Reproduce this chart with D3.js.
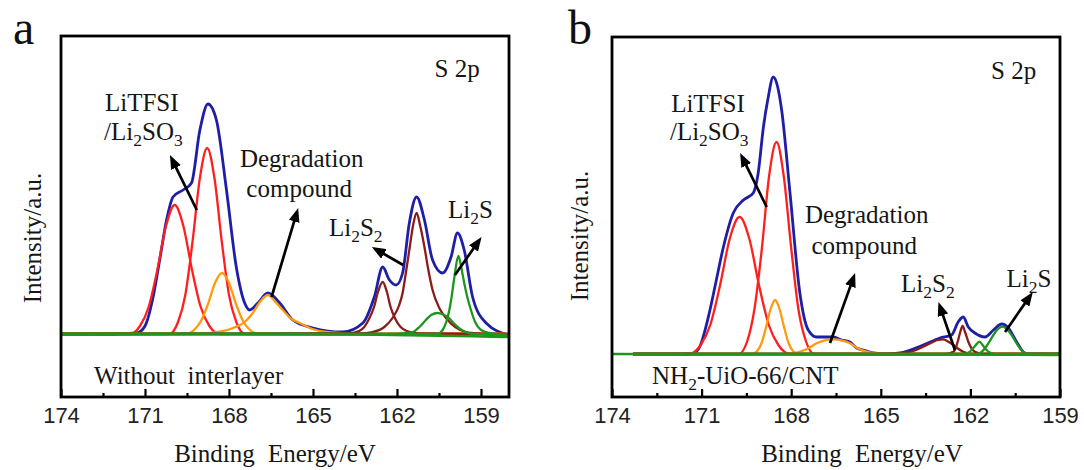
<!DOCTYPE html>
<html><head><meta charset="utf-8">
<script src="https://cdn.jsdelivr.net/npm/d3@7"></script>
<style>
html,body{margin:0;padding:0;background:#fff;}
svg{display:block;}
</style></head><body>
<svg id="chart" width="1084" height="470"></svg>
<script>
// ---------------- DATA (binding energy eV, intensity a.u.) ----------------
const xTicksMajor = [174, 171, 168, 165, 162, 159];
const xTicksMinor = [172.5, 169.5, 166.5, 163.5, 160.5];

// Panel a: Without interlayer
const envelopeA = [[174.0,0],[172.6,0],[171.7,0.5],[171.29,1],[171.0,8],[170.71,37],[170.47,75],[170.23,114],[170.0,137],[169.64,144],[169.34,151],[169.04,204],[168.75,230],[168.45,214],[168.09,144],[167.74,67],[167.44,31],[167.26,24],[166.97,31],[166.61,41],[166.19,31],[165.72,14],[165.0,6],[163.94,2],[163.22,11],[162.81,37],[162.51,67],[162.27,54],[162.03,49],[161.8,61],[161.56,111],[161.3,137],[161.02,114],[160.73,74],[160.37,61],[160.07,77],[159.84,101],[159.6,84],[159.3,37],[158.82,11],[158.0,-1]];
const litfsiA1 = [[174,0],[171.54,0],[171.18,8],[170.87,27],[170.56,64],[170.25,108],[169.94,129],[169.63,108],[169.32,64],[169.01,27],[168.70,8],[168.34,0],[158.0,0]];
const litfsiA2 = [[174,0],[170.13,0],[169.82,12],[169.56,39],[169.30,93],[169.04,156],[168.78,186],[168.52,156],[168.26,93],[168.00,39],[167.74,12],[167.43,0],[158.0,0]];
const degradA1 = [[174,0],[169.55,0],[169.25,4],[169.0,13],[168.75,30],[168.5,51],[168.25,61],[168.0,51],[167.75,30],[167.5,13],[167.25,4],[166.95,0],[158.0,0]];
const degradA2 = [[174,0],[169.04,0.5],[168.51,1.5],[167.86,6],[167.44,12],[167.15,21],[166.87,33],[166.61,39],[166.34,32],[166.08,24],[165.76,15],[165.48,11],[165.02,5],[164.53,2],[163.7,0.5],[162.63,0],[158.0,0]];
const li2s2A1 = [[174,0],[163.88,0],[163.35,3],[163.17,7],[163.0,15],[162.82,27],[162.68,42],[162.51,52],[162.36,42],[162.23,27],[162.06,15],[161.87,7],[161.65,3],[161.22,0.5],[158.0,0]];
const li2s2A2 = [[174,0],[163.34,0.5],[162.87,2],[162.45,7],[162.16,16],[161.92,29],[161.8,41],[161.69,60],[161.56,84],[161.43,108],[161.30,121],[161.17,108],[161.02,87],[160.88,64],[160.73,44],[160.49,26],[160.25,16],[159.92,7],[159.54,2],[158.88,0],[158.0,-2]];
const li2sA1 = [[174,0],[162.09,0],[161.73,1],[161.44,2],[161.2,7],[160.97,14],[160.78,19],[160.55,21],[160.35,19.5],[160.14,16],[159.96,10.5],[159.79,6],[159.57,2],[159.25,0],[158.0,-1]];
const li2sA2 = [[174,0],[160.56,0],[160.37,4],[160.24,12],[160.13,24],[160.04,39],[159.95,57],[159.81,78],[159.70,66],[159.60,51],[159.49,37],[159.36,24],[159.21,12],[159.0,4],[158.71,1],[158.0,-1]];
const baselineA = [[174,0],[166,0],[158.0,-3]];

// Panel b: NH2-UiO-66/CNT
const envelopeB = [[173.3,0],[171.72,0],[171.28,0.5],[171.05,8],[170.72,44],[170.52,72],[170.27,107],[169.94,141],[169.6,154],[169.27,161],[169.11,180],[168.93,227],[168.78,255],[168.6,277],[168.46,268],[168.32,244],[168.04,161],[167.71,61],[167.43,24],[167.15,17],[166.87,17],[166.59,17],[166.31,14],[166.03,12],[165.81,6],[165.47,3],[165.25,1],[164.8,0],[164.36,1],[163.58,9],[163.02,16],[162.63,19],[162.41,32],[162.24,37],[162.07,27],[161.85,21],[161.51,17],[161.23,24],[160.95,30],[160.73,26],[160.45,12],[160.17,1],[159.9,0],[159.0,0]];
const litfsiB1 = [[173.3,0],[171.43,0],[171.03,9],[170.71,29],[170.38,69],[170.06,115],[169.73,137],[169.40,115],[169.08,69],[168.75,29],[168.43,9],[168.03,0],[159,0]];
const litfsiB2 = [[173.3,0],[169.76,0],[169.47,13],[169.23,45],[168.98,106],[168.74,178],[168.49,212],[168.25,178],[168.0,106],[167.76,45],[167.51,13],[167.22,0],[159,0]];
const degradB1 = [[173.3,0],[169.32,0],[169.14,3],[168.99,11],[168.84,27],[168.69,45],[168.54,54],[168.39,45],[168.24,27],[168.09,11],[167.94,3],[167.76,0],[159,0]];
const degradB2 = [[173.3,0],[168.28,0],[167.87,1],[167.71,2.3],[167.44,5.5],[167.15,10.7],[166.87,13.7],[166.59,14.7],[166.31,13.7],[166.03,10.7],[165.76,5.5],[165.47,2.3],[165.29,1],[164.89,0],[159,0]];
const li2s2B1 = [[173.3,0],[164.86,0],[164.43,0.5],[164.13,1.3],[163.86,3.5],[163.58,7.3],[163.29,11.5],[163.09,14],[162.91,14.7],[162.75,12.5],[162.57,9],[162.42,5.5],[162.24,2.3],[161.9,0],[159,0]];
const li2s2B2 = [[173.3,0],[162.89,0],[162.57,2.3],[162.48,7],[162.41,14],[162.33,23],[162.26,28],[162.18,22],[162.07,12.3],[161.96,5.5],[161.85,2.3],[161.57,0],[159,0]];
const li2sB1 = [[173.3,0],[162.24,0],[162.08,1.2],[161.96,4],[161.83,8.5],[161.70,12.3],[161.58,8.5],[161.46,4],[161.33,1.2],[161.18,0],[159,0]];
const li2sB2 = [[173.3,0],[161.79,0],[161.65,1.5],[161.51,5.7],[161.38,11.5],[161.23,19],[161.08,24.8],[160.93,27.3],[160.78,24.8],[160.62,19],[160.47,11.5],[160.34,5.7],[160.21,1.5],[160.06,0],[159,0]];
const baselineB = [[174,0],[159,-1]];

// annotation anchors in data units: [E, I]
const arrowsA = [[[169.15,124],[170.11,179]],[[166.48,37],[165.53,126]],[[161.78,69],[162.90,87]],[[159.93,59],[158.98,97]]];
const arrowsB = [[[168.82,147],[169.71,201]],[[166.70,11],[165.86,81]],[[162.52,4],[163.07,52]],[[160.84,22],[159.91,62]]];

// ---------------- STYLE / LAYOUT ----------------
const colors = {env:"#1f1fa6", red:"#ff1f1f", orange:"#ff9a10", brown:"#8c1c1c", green:"#1e961e"};
const serif = "'Liberation Serif','Times New Roman',serif";
const sans = "'Liberation Sans',Arial,sans-serif";

const panels = [
  {letter:"a", letterX:13, frame:{x0:61,x1:509,y0:36,y1:397}, xDomain:[174,158], yDomain:[-63,298],
   env:envelopeA, comps:[[litfsiA1,"red"],[litfsiA2,"red"],[degradA1,"orange"],[degradA2,"orange"],[li2s2A1,"brown"],[li2s2A2,"brown"],[li2sA1,"green"],[li2sA2,"green"]],
   base:baselineA, arrows:arrowsA, xTitleX:275, yTitleX:40.5, yTitleY:238,
   labels:[
     {p:[160.66,257], parts:["S 2p"]},
     {p:[172.43,223], parts:["LiTFSI"]},
     {p:[172.46,194], parts:["/Li",["2"],"SO",["3"]]},
     {p:[167.61,167], parts:["Degradation"]},
     {p:[167.38,137], parts:["compound"]},
     {p:[164.43,98], parts:["Li",["2"],"S",["2"]]},
     {p:[160.18,116], parts:["Li",["2"],"S"]},
     {p:[172.82,-50], parts:["Without  interlayer"]}
   ]},
  {letter:"b", letterX:568, frame:{x0:612,x1:1060,y0:37,y1:397}, xDomain:[174,159], yDomain:[-43,317],
   env:envelopeB, comps:[[litfsiB1,"red"],[litfsiB2,"red"],[degradB1,"orange"],[degradB2,"orange"],[li2s2B1,"brown"],[li2s2B2,"brown"],[li2sB1,"green"],[li2sB2,"green"]],
   base:baselineB, arrows:arrowsB, xTitleX:862, yTitleX:588, yTitleY:236,
   labels:[
     {p:[161.31,275], parts:["S 2p"]},
     {p:[172.02,242], parts:["LiTFSI"]},
     {p:[172.06,214], parts:["/Li",["2"],"SO",["3"]]},
     {p:[167.54,131], parts:["Degradation"]},
     {p:[167.32,100.5], parts:["compound"]},
     {p:[164.32,62], parts:["Li",["2"],"S",["2"]]},
     {p:[160.79,67], parts:["Li",["2"],"S"]},
     {p:[172.66,-30], parts:["NH",["2"],"-UiO-66/CNT"]}
   ]}
];

const svg = d3.select("#chart");
svg.append("rect").attr("width",1084).attr("height",470).attr("fill","#fff");
const defs = svg.append("defs");
defs.append("marker").attr("id","arrowhead").attr("viewBox","0 0 14 11").attr("refX",14).attr("refY",5.5)
  .attr("markerWidth",14).attr("markerHeight",11).attr("markerUnits","userSpaceOnUse").attr("orient","auto")
  .append("path").attr("d","M0,0 L14,5.5 L0,11 Z").attr("fill","#000");

function richText(g, x, y, parts, size){
  const t = g.append("text").attr("x",x).attr("y",y).attr("font-family",serif).attr("font-size",size)
    .attr("fill","#161616").style("white-space","pre");
  let shifted = false;
  parts.forEach(p=>{
    if (Array.isArray(p)) {
      t.append("tspan").attr("font-size", size*0.7).attr("dy", shifted?0:6).text(p[0]);
      shifted = true;
    } else {
      t.append("tspan").attr("dy", shifted?-6:0).text(p);
      shifted = false;
    }
  });
  return t;
}

panels.forEach(P=>{
  const f = P.frame;
  const x = d3.scaleLinear().domain(P.xDomain).range([f.x0,f.x1]);
  const y = d3.scaleLinear().domain(P.yDomain).range([f.y1,f.y0]);
  const g = svg.append("g");
  const line = d3.line().x(d=>x(d[0])).y(d=>y(d[1])).curve(d3.curveMonotoneX);

  // envelope
  g.append("path").datum(P.env).attr("d",line).attr("fill","none").attr("stroke",colors.env).attr("stroke-width",2.8);
  // components
  P.comps.forEach(([data,c])=>{
    g.append("path").datum(data).attr("d",line).attr("fill","none").attr("stroke",colors[c]).attr("stroke-width",2.3);
  });
  // baseline
  g.append("path").datum(P.base).attr("d",line).attr("fill","none").attr("stroke",colors.green).attr("stroke-width",2.4);

  // arrows
  P.arrows.forEach(([a,b])=>{
    const x1=x(a[0]), y1=y(a[1]), x2=x(b[0]), y2=y(b[1]);
    const L=Math.hypot(x2-x1,y2-y1), k=(L-7)/L;
    g.append("line").attr("x1",x1).attr("y1",y1).attr("x2",x1+(x2-x1)*k).attr("y2",y1+(y2-y1)*k)
      .attr("stroke","#000").attr("stroke-width",2.7);
    g.append("line").attr("x1",x1+(x2-x1)*k*0.99).attr("y1",y1+(y2-y1)*k*0.99).attr("x2",x2).attr("y2",y2)
      .attr("stroke","none").attr("marker-end","url(#arrowhead)");
  });

  // labels
  P.labels.forEach(L=>{ richText(g, x(L.p[0]), y(L.p[1]), L.parts, 25); });

  // frame
  g.append("rect").attr("x",f.x0).attr("y",f.y0).attr("width",f.x1-f.x0).attr("height",f.y1-f.y0)
    .attr("fill","none").attr("stroke","#000").attr("stroke-width",2.8);

  // axes
  const axMaj = d3.axisBottom(x).tickValues(xTicksMajor).tickSizeInner(-8).tickSizeOuter(0).tickFormat(d3.format("d"));
  g.append("g").attr("transform",`translate(0,${f.y1})`).call(axMaj)
    .call(s=>s.select(".domain").remove())
    .call(s=>s.selectAll(".tick line").attr("stroke","#000").attr("stroke-width",2.2))
    .call(s=>s.selectAll(".tick text").attr("y",26).attr("dy",0).attr("font-size",22).attr("font-family",sans).attr("fill","#222"));
  const axMin = d3.axisBottom(x).tickValues(xTicksMinor).tickSizeInner(-4).tickSizeOuter(0).tickFormat("");
  g.append("g").attr("transform",`translate(0,${f.y1})`).call(axMin)
    .call(s=>s.select(".domain").remove())
    .call(s=>s.selectAll(".tick line").attr("stroke","#000").attr("stroke-width",2.2));

  // axis titles
  g.append("text").attr("x",P.xTitleX).attr("y",462).attr("text-anchor","middle").attr("font-family",serif)
    .attr("font-size",25).attr("word-spacing",7).attr("fill","#161616").text("Binding Energy/eV");
  g.append("text").attr("transform",`translate(${P.yTitleX},${P.yTitleY}) rotate(-90)`).attr("text-anchor","middle")
    .attr("font-family",serif).attr("font-size",25).attr("fill","#161616").text("Intensity/a.u.");
  // panel letter
  g.append("text").attr("x",P.letterX).attr("y",44).attr("font-family",serif).attr("font-size",48).attr("fill","#111").text(P.letter);
});
</script>
</body></html>
